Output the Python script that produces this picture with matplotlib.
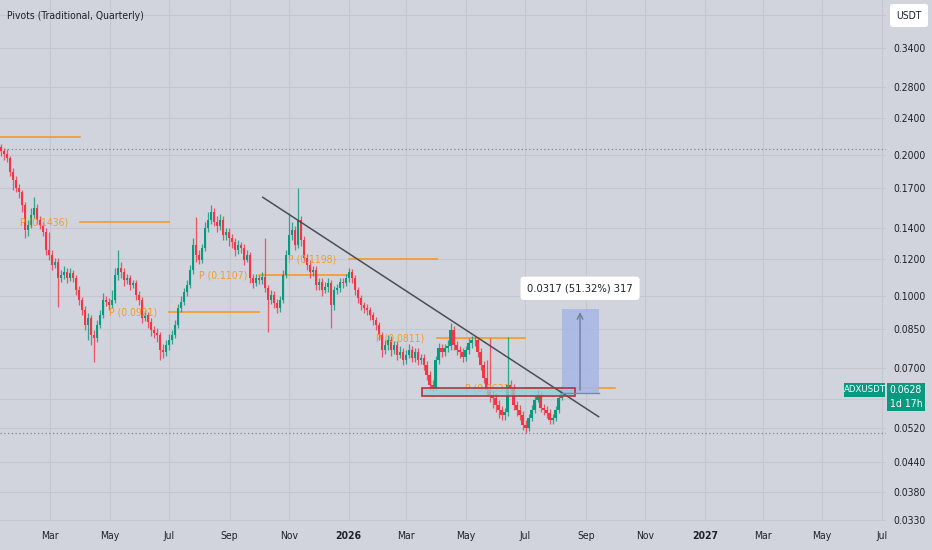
import os
import numpy as np
import matplotlib.pyplot as plt
from matplotlib import font_manager
from matplotlib.patches import Rectangle, FancyBboxPatch

# --- data (ADXUSDT, ~3-day candles) ---
first_open = 0.2086
close = [
    .2042, .2009, .1974, .1843, .1771, .1703, .1670, .1565, .1384, .1419,
    .1490, .1542, .1454, .1419, .1370, .1253, .1223, .1164, .1181, .1092,
    .1108, .1125, .1092, .1119, .1092, .1029, .0979, .0932, .0865, .0896,
    .0824, .0811, .0865, .0909, .0979, .0969, .0955, .0979, .1108, .1147,
    .1125, .1081, .1092, .1055, .1065, .1004, .0979, .0896, .0909, .0878,
    .0844, .0832, .0824, .0765, .0757, .0784, .0803, .0824, .0865, .0941,
    .0969, .1019, .1055, .1136, .1285, .1223, .1193, .1266, .1398, .1454,
    .1512, .1440, .1412, .1454, .1350, .1370, .1330, .1304, .1253, .1285,
    .1266, .1193, .1223, .1092, .1065, .1092, .1081, .1097, .1039, .0979,
    .1004, .0964, .0941, .0979, .1108, .1223, .1350, .1384, .1285, .1454,
    .1317, .1205, .1164, .1125, .1136, .1055, .1070, .1029, .1044, .1065,
    .0955, .1029, .1039, .1070, .1065, .1092, .1125, .1092, .1029, .0989,
    .0955, .0941, .0932, .0909, .0887, .0865, .0824, .0765, .0784, .0803,
    .0765, .0784, .0746, .0757, .0728, .0746, .0765, .0735, .0757, .0728,
    .0735, .0710, .0676, .0643, .0634, .0728, .0773, .0757, .0773, .0780,
    .0844, .0784, .0765, .0757, .0739, .0765, .0791, .0803, .0803, .0757,
    .0710, .0666, .0628, .0612, .0603, .0583, .0568, .0555, .0563, .0643,
    .0634, .0583, .0568, .0555, .0528, .0520, .0546, .0568, .0597, .0612,
    .0574, .0568, .0560, .0541, .0546, .0568, .0603, .0628,
]
high = [
    .2115, .2075, .2064, .1998, .1879, .1806, .1737, .1686, .1588, .1454,
    .1542, .1629, .1573, .1483, .1440, .1398, .1370, .1253, .1205, .1205,
    .1136, .1158, .1147, .1147, .1136, .1108, .1050, .0994, .0950, .0918,
    .0909, .0844, .0887, .0932, .1014, .0999, .0989, .1029, .1147, .1253,
    .1181, .1147, .1114, .1108, .1081, .1081, .1024, .0994, .0932, .0923,
    .0896, .0861, .0852, .0836, .0788, .0803, .0828, .0844, .0887, .0960,
    .0999, .1039, .1081, .1164, .1330, .1475, .1253, .1291, .1440, .1512,
    .1565, .1542, .1483, .1497, .1483, .1398, .1398, .1357, .1330, .1317,
    .1304, .1291, .1253, .1241, .1114, .1114, .1108, .1125, .1330, .1055,
    .1029, .1024, .0984, .0999, .1136, .1253, .1505, .1440, .1412, .1703,
    .1483, .1343, .1229, .1193, .1158, .1158, .1092, .1092, .1070, .1092,
    .1081, .1050, .1060, .1092, .1092, .1114, .1147, .1141, .1108, .1044,
    .1004, .0969, .0960, .0946, .0923, .0900, .0878, .0836, .0803, .0824,
    .0820, .0799, .0799, .0780, .0773, .0765, .0788, .0780, .0773, .0773,
    .0750, .0750, .0724, .0690, .0659, .0742, .0791, .0788, .0788, .0803,
    .0874, .0861, .0799, .0780, .0773, .0780, .0811, .0820, .0820, .0816,
    .0773, .0724, .0728, .0811, .0628, .0618, .0597, .0580, .0574, .0816,
    .0659, .0646, .0594, .0583, .0566, .0541, .0557, .0583, .0612, .0628,
    .0621, .0586, .0580, .0571, .0557, .0580, .0615, .0643,
]
low = [
    .1998, .1955, .1936, .1806, .1686, .1670, .1620, .1512, .1330, .1343,
    .1398, .1468, .1426, .1391, .1343, .1223, .1193, .1136, .1147, .0946,
    .1070, .1086, .1065, .1076, .1070, .1004, .0955, .0909, .0844, .0803,
    .0784, .0721, .0795, .0852, .0896, .0950, .0932, .0941, .0964, .1081,
    .1092, .1050, .1060, .1029, .1039, .0979, .0955, .0874, .0883, .0852,
    .0820, .0811, .0795, .0728, .0735, .0742, .0765, .0788, .0811, .0852,
    .0923, .0955, .0999, .1039, .1114, .1181, .1170, .1176, .1247, .1370,
    .1426, .1412, .1370, .1384, .1317, .1317, .1279, .1266, .1217, .1229,
    .1235, .1164, .1181, .1065, .1039, .1050, .1060, .1060, .1019, .0836,
    .0960, .0941, .0918, .0923, .0964, .1092, .1205, .1317, .1253, .1266,
    .1279, .1181, .1136, .1092, .1103, .1029, .1029, .0999, .1014, .1019,
    .0852, .0932, .1009, .1019, .1039, .1050, .1070, .1065, .1004, .0964,
    .0932, .0918, .0909, .0887, .0865, .0844, .0803, .0739, .0750, .0765,
    .0742, .0750, .0728, .0735, .0710, .0714, .0735, .0721, .0721, .0710,
    .0714, .0693, .0659, .0628, .0625, .0628, .0714, .0739, .0742, .0757,
    .0765, .0765, .0746, .0735, .0721, .0724, .0750, .0773, .0780, .0739,
    .0693, .0650, .0609, .0591, .0574, .0563, .0546, .0541, .0541, .0552,
    .0615, .0568, .0552, .0541, .0515, .0507, .0512, .0538, .0560, .0591,
    .0563, .0555, .0546, .0530, .0530, .0538, .0560, .0597,
]
first_candle = '2025-01-10'
last_candle = '2026-08-07'

# quarterly pivot points
pivot_start = ['2025-01-01', '2025-04-01', '2025-07-01', '2025-10-01',
               '2026-01-01', '2026-04-01', '2026-07-01']
pivot_end = ['2025-04-01', '2025-07-01', '2025-10-01', '2026-01-01',
             '2026-04-01', '2026-07-01', '2026-10-01']
pivot_value = [0.2190, 0.1436, 0.0921, 0.1107, 0.1198, 0.0811, 0.0633]

# drawings
trend_dates = ['2025-10-05', '2026-09-14']
trend_prices = [0.1626, 0.0550]
zone_dates = ['2026-03-17', '2026-08-21']
zone_prices = [0.0609, 0.0634]
measure_dates = ['2026-08-07', '2026-09-14']
measure_prices = [0.0618, 0.0935]
measure_text = '0.0317 (51.32%) 317'
range_high, range_low = 0.2064, 0.0508
last_price = 0.0628

price_ticks = [0.34, 0.28, 0.24, 0.20, 0.17, 0.14, 0.12, 0.10, 0.085,
               0.070, 0.052, 0.044, 0.038, 0.033]
hidden_ticks = [0.40, 0.060]   # gridlines whose labels sit under the boxes
month_ticks = ['2025-03-01', '2025-05-01', '2025-07-01', '2025-09-01', '2025-11-01',
               '2026-01-01', '2026-03-01', '2026-05-01', '2026-07-01', '2026-09-01',
               '2026-11-01', '2027-01-01', '2027-03-01', '2027-05-01', '2027-07-01']
month_labels = ['Mar', 'May', 'Jul', 'Sep', 'Nov', '2026', 'Mar', 'May', 'Jul', 'Sep',
                'Nov', '2027', 'Mar', 'May', 'Jul']

REF = np.datetime64('2026-01-01')


def day(s):
    return float((np.datetime64(s) - REF).astype(int))


# look for a narrow face, TradingView labels are tight
FONT, STRETCH = 'Liberation Sans', 'normal'
for f in font_manager.fontManager.ttflist:
    base = os.path.basename(f.fname)
    if f.style != 'normal':
        continue
    if 'Narrow' in f.name or 'Condensed' in f.name or 'Condensed' in base:
        FONT, STRETCH = f.name, f.stretch
        if 'Liberation' in f.name or 'DejaVu' in f.name:
            break
plt.rcParams['font.family'] = [FONT, 'DejaVu Sans']
plt.rcParams['font.stretch'] = STRETCH

BG = '#d1d4dc'
GRID = '#c4c7cf'
GREEN = '#089981'
RED = '#f23645'
ORANGE = '#f49a2c'
TXT = '#1e222d'
FS = 7.5

fig = plt.figure(figsize=(9.32, 5.5), dpi=100)
fig.patch.set_facecolor(BG)
ax = fig.add_axes([0, 29 / 550, 886 / 932, 521 / 550])
ax.set_facecolor(BG)
ax.set_yscale('log')
ax.set_xlim(-357.2, 550.4)
ax.set_ylim(0.03285, 0.4310)

# candles
c = np.array(close)
o = np.r_[first_open, c[:-1]]
xs = np.linspace(day(first_candle), day(last_candle), len(c))
cols = np.where(c >= o, GREEN, RED)
ax.vlines(xs, low, high, colors=cols, lw=0.9, alpha=0.8, zorder=3)
ax.bar(xs, np.abs(c - o), bottom=np.minimum(o, c), width=2.4, color=cols,
       linewidth=0, zorder=4)

# pivots
for s, e, v in zip(pivot_start, pivot_end, pivot_value):
    ax.plot([day(s), day(e)], [v, v], color=ORANGE, lw=1.2, zorder=2)
    ax.annotate(f'P ({v:.4f})', (day(s), v), xytext=(-12, 0), textcoords='offset pixels',
                ha='right', va='center', fontsize=FS, color=ORANGE, zorder=5,
                annotation_clip=True)

# range high / low dotted lines
for v in (range_high, range_low):
    ax.axhline(v, color='#80848f', lw=0.9, ls=(0, (1, 2)), zorder=2)

# trendline
ax.plot([day(d) for d in trend_dates], trend_prices, color='#4a4e59', lw=1.1, zorder=6)

# support zone
zx0, zx1 = day(zone_dates[0]), day(zone_dates[1])
ax.add_patch(Rectangle((zx0, zone_prices[0]), zx1 - zx0, zone_prices[1] - zone_prices[0],
                       facecolor='#8fd0d8', alpha=0.75, edgecolor='none', zorder=5))
ax.add_patch(Rectangle((zx0, zone_prices[0]), zx1 - zx0, zone_prices[1] - zone_prices[0],
                       facecolor='none', edgecolor='#b2343c', lw=1.2, zorder=6))

# measurement box
mx0, mx1 = day(measure_dates[0]), day(measure_dates[1])
ax.add_patch(Rectangle((mx0, measure_prices[0]), mx1 - mx0, measure_prices[1] - measure_prices[0],
                       facecolor='#a7b7e6', alpha=0.85, edgecolor='none', zorder=5))
ax.plot([mx0, mx1], [measure_prices[0]] * 2, color='#7a88a8', lw=1, zorder=6)
mxc = (mx0 + mx1) / 2
ax.annotate('', xy=(mxc, measure_prices[1]), xytext=(mxc, measure_prices[0]),
            arrowprops=dict(arrowstyle='->', color='#6f7d9c', lw=1), zorder=7)
ax.annotate(measure_text, (mxc, measure_prices[1]), xytext=(0, 21), textcoords='offset pixels',
            ha='center', va='center', fontsize=8, color=TXT, zorder=8,
            bbox=dict(boxstyle='round,pad=0.6,rounding_size=0.3', fc='white', ec='none'))

# axes styling
for sp in ax.spines.values():
    sp.set_visible(False)
ax.yaxis.tick_right()
ax.set_yticks(price_ticks)
ax.set_yticklabels([f'{v:.4f}' for v in price_ticks])
ax.yaxis.set_minor_locator(plt.NullLocator())
ax.tick_params(axis='y', length=0, pad=5, labelsize=FS, labelcolor=TXT)
for v in hidden_ticks:
    ax.axhline(v, color=GRID, lw=0.8, zorder=0)
ax.set_xticks([day(d) for d in month_ticks])
ax.set_xticklabels(month_labels)
ax.tick_params(axis='x', length=0, pad=7, labelsize=FS, labelcolor=TXT)
for lbl in ax.get_xticklabels():
    if lbl.get_text().isdigit():
        lbl.set_fontweight('bold')
ax.grid(True, color=GRID, lw=0.8, zorder=0)
ax.set_axisbelow(True)


def fx(px):
    return px / 932


def fy(py):
    return 1 - py / 550


fig.text(fx(7), fy(16), 'Pivots (Traditional, Quarterly)', fontsize=FS, color=TXT,
         ha='left', va='center')

# USDT box
fig.patches.append(FancyBboxPatch((fx(890), fy(27)), fx(38), 23 / 550,
                                  boxstyle='round,pad=0,rounding_size=0.004',
                                  transform=fig.transFigure, fc='white', ec='none', zorder=5))
fig.text(fx(909), fy(16), 'USDT', fontsize=FS, color=TXT, ha='center', va='center', zorder=6)

# last price labels
fig.patches.append(Rectangle((fx(887), fy(411)), fx(38), 28 / 550, transform=fig.transFigure,
                             fc=GREEN, ec='none', zorder=5))
fig.patches.append(Rectangle((fx(844), fy(397)), fx(41), 14 / 550, transform=fig.transFigure,
                             fc=GREEN, ec='none', zorder=5))
fig.text(fx(906), fy(390), f'{last_price:.4f}', fontsize=FS, color='white',
         ha='center', va='center', zorder=6)
fig.text(fx(906), fy(404), '1d 17h', fontsize=FS, color='white',
         ha='center', va='center', zorder=6)
fig.text(fx(864.5), fy(390), 'ADXUSDT', fontsize=6.8, color='white',
         ha='center', va='center', zorder=6)

fig.savefig('out.png', dpi=100, facecolor=BG)
